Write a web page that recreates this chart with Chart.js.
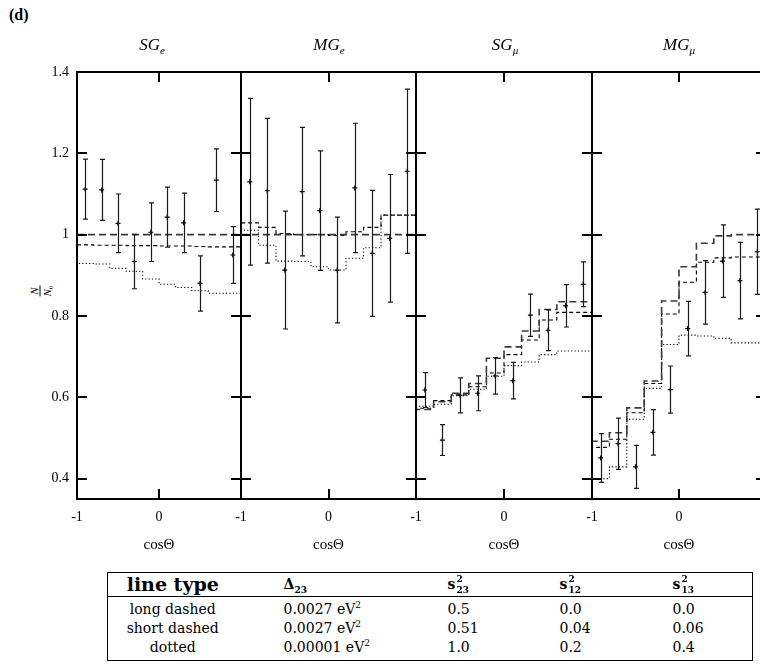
<!DOCTYPE html>
<html>
<head>
<meta charset="utf-8">
<title>N/N0 versus cos theta</title>
<script src="https://cdn.jsdelivr.net/npm/chart.js@4.4.1/dist/chart.umd.min.js"></script>
<style>
  html, body { margin: 0; padding: 0; background: #fff; }
  body {
    position: relative; width: 760px; height: 664px; overflow: hidden;
    font-family: "Liberation Serif", "DejaVu Serif", serif; color: #000;
  }
  canvas { position: absolute; top: 0; }
  .tag { position: absolute; left: 9px; top: 6px; font-weight: bold; font-size: 16px; }
  .ttl {
    position: absolute; top: 35px; font-style: italic; font-size: 17px;
    transform: translateX(-50%); white-space: nowrap;
  }
  .ttl sub { font-size: 11px; vertical-align: -4px; }
  .ylab {
    position: absolute; left: 41px; top: 291px;
    transform: translate(-50%, -50%) rotate(-90deg);
    font-size: 11px; font-style: italic;
  }
  .frac { display: inline-flex; flex-direction: column; align-items: center; line-height: 1; }
  .frac .den { border-top: 1px solid #000; padding-top: 1px; }
  .frac sub { font-size: 7px; vertical-align: -2px; font-style: normal; }

  table.params {
    position: absolute; left: 107px; top: 572px; width: 645px;
    border-collapse: collapse; border: 1px solid #000; table-layout: fixed;
    font-family: "DejaVu Serif", serif; font-size: 14px;
  }
  table.params th, table.params td {
    padding: 0 0 0 46px; text-align: left; white-space: nowrap; font-weight: normal;
  }
  table.params .lt { text-align: center; padding-left: 0; }
  table.params thead th {
    border-bottom: 1px solid #000; height: 23px; line-height: 23px; font-weight: bold;
  }
  table.params thead th.lt { font-size: 19px; }
  table.params tbody td { height: 19px; line-height: 19px; }
  table.params tbody tr:first-child td { padding-top: 3px; }
  table.params tbody tr:last-child td { padding-bottom: 3px; }
  table.params sub { font-size: 9px; line-height: 0; }
  table.params sup { font-size: 9px; line-height: 0; vertical-align: 6px; }
  /* superscript 2 stacked over the index pair */
  .stk { position: relative; display: inline-block; width: 14px; height: 1px; }
  .stk .up, .stk .dn { position: absolute; left: 1px; font-size: 9px; line-height: 10px; }
  .stk .up { top: -14px; }
  .stk .dn { top: -3px; }
</style>
</head>
<body>
<div class="tag">(d)</div>
<div class="ylab"><span class="frac"><span>N</span><span class="den">N<sub>0</sub></span></span></div>

<canvas id="panel0"></canvas>
<canvas id="panel1"></canvas>
<canvas id="panel2"></canvas>
<canvas id="panel3"></canvas>

<table class="params">
  <colgroup>
    <col style="width:130px"><col style="width:164px"><col style="width:112px"><col style="width:113px"><col style="width:126px">
  </colgroup>
  <thead>
    <tr>
      <th class="lt">line type</th>
      <th>&Delta;<sub>23</sub></th>
      <th>s<span class="stk"><span class="up">2</span><span class="dn">23</span></span></th>
      <th>s<span class="stk"><span class="up">2</span><span class="dn">12</span></span></th>
      <th>s<span class="stk"><span class="up">2</span><span class="dn">13</span></span></th>
    </tr>
  </thead>
  <tbody>
    <tr><td class="lt">long dashed</td><td>0.0027 eV<sup>2</sup></td><td>0.5</td><td>0.0</td><td>0.0</td></tr>
    <tr><td class="lt">short dashed</td><td>0.0027 eV<sup>2</sup></td><td>0.51</td><td>0.04</td><td>0.06</td></tr>
    <tr><td class="lt">dotted</td><td>0.00001 eV<sup>2</sup></td><td>1.0</td><td>0.2</td><td>0.4</td></tr>
  </tbody>
</table>

<script>
// cos(theta) binning shared by all four samples
const binEdges = [-1, -0.8, -0.6, -0.4, -0.2, 0, 0.2, 0.4, 0.6, 0.8, 1];
const binCenters = [-0.9, -0.7, -0.5, -0.3, -0.1, 0.1, 0.3, 0.5, 0.7, 0.9];
const yTicks = [0.4, 0.6, 0.8, 1.0, 1.2, 1.4];
const xTicks = [-1, 0];

// sub-GeV e-like
const sgeData = [1.112, 1.110, 1.028, 0.934, 1.006, 1.043, 1.029, 0.880, 1.134, 0.950];
const sgeErr = [0.074, 0.075, 0.072, 0.067, 0.072, 0.074, 0.073, 0.068, 0.077, 0.070];
const sgeLong = [1.0, 1.0, 1.0, 1.0, 1.0, 1.0, 1.0, 1.0, 1.0, 1.0];
const sgeShort = [0.975, 0.975, 0.974, 0.974, 0.973, 0.973, 0.972, 0.972, 0.971, 0.970];
const sgeDotted = [0.917, 0.929, 0.928, 0.917, 0.910, 0.891, 0.878, 0.870, 0.862, 0.856];

// multi-GeV e-like
const mgeData = [1.130, 1.108, 0.913, 1.106, 1.059, 0.913, 1.115, 0.954, 0.991, 1.156];
const mgeErr = [0.205, 0.178, 0.145, 0.158, 0.147, 0.130, 0.159, 0.155, 0.157, 0.202];
const mgeLong = [1.0, 1.0, 1.0, 1.0, 1.0, 1.0, 1.0, 1.0, 1.0, 1.0];
const mgeShort = [1.063, 1.029, 1.018, 1.003, 1.000, 1.000, 0.998, 1.007, 1.018, 1.048];
const mgeDotted = [1.096, 1.011, 0.974, 0.935, 0.934, 0.921, 0.913, 0.942, 0.968, 1.048];

// sub-GeV mu-like
const sgmData = [0.618, 0.495, 0.605, 0.610, 0.653, 0.641, 0.802, 0.765, 0.825, 0.878];
const sgmErr = [0.043, 0.038, 0.043, 0.043, 0.045, 0.045, 0.052, 0.050, 0.052, 0.055];
const sgmLong = [0.563, 0.570, 0.589, 0.610, 0.634, 0.696, 0.724, 0.763, 0.816, 0.835];
const sgmShort = [0.566, 0.573, 0.592, 0.606, 0.626, 0.660, 0.705, 0.741, 0.790, 0.809];
const sgmDotted = [0.577, 0.578, 0.583, 0.604, 0.620, 0.652, 0.678, 0.687, 0.705, 0.714];

// multi-GeV mu-like
const mgmData = [0.451, 0.486, 0.429, 0.514, 0.619, 0.769, 0.858, 0.935, 0.887, 0.958];
const mgmErr = [0.060, 0.063, 0.053, 0.056, 0.058, 0.067, 0.078, 0.089, 0.094, 0.105];
const mgmLong = [0.489, 0.492, 0.513, 0.574, 0.640, 0.837, 0.921, 0.979, 0.997, 1.000];
const mgmShort = [0.470, 0.477, 0.497, 0.562, 0.634, 0.805, 0.883, 0.932, 0.943, 0.945];
const mgmDotted = [0.514, 0.400, 0.429, 0.546, 0.622, 0.730, 0.753, 0.751, 0.745, 0.734];

const FONT = '"Liberation Serif", "DejaVu Serif", serif';
const SIDE = 40;        // room kept left and right of each plot box
const TOP = 72;         // top of the plot boxes
const CANVAS_H = 560;
const X_AXIS_H = 61;    // tick labels + cosΘ below each box

const panels = [
  { left: 77, width: 164, titleX: 152, name: 'SG', sub: 'e', data: sgeData, err: sgeErr, long: sgeLong, short: sgeShort, dotted: sgeDotted },
  { left: 241, width: 175, titleX: 329, name: 'MG', sub: 'e', data: mgeData, err: mgeErr, long: mgeLong, short: mgeShort, dotted: mgeDotted },
  { left: 416, width: 176, titleX: 505, name: 'SG', sub: 'μ', data: sgmData, err: sgmErr, long: sgmLong, short: sgmShort, dotted: sgmDotted },
  { left: 592, width: 174, titleX: 679, name: 'MG', sub: 'μ', data: mgmData, err: mgmErr, long: mgmLong, short: mgmShort, dotted: mgmDotted },
];

// histogram outline: each bin value held until the next edge, last one repeated at x = 1
function steps(vals) {
  return binEdges.map((e, i) => ({ x: e, y: vals[Math.min(i, vals.length - 1)] }));
}

// error bars, box frame and inward tick marks
const framePlugin = {
  id: 'frame',
  afterDatasetsDraw(chart) {
    const { ctx, chartArea: a, scales: { x, y } } = chart;
    ctx.save();

    ctx.strokeStyle = '#1a1a1a';
    ctx.lineWidth = 1.2;
    chart.data.datasets.forEach((ds) => {
      if (!ds.errors) return;
      ds.data.forEach((pt, j) => {
        const px = Math.round(x.getPixelForValue(pt.x)) + 0.5;
        const top = y.getPixelForValue(pt.y + ds.errors[j]);
        const bot = y.getPixelForValue(pt.y - ds.errors[j]);
        ctx.beginPath();
        ctx.moveTo(px, top); ctx.lineTo(px, bot);
        ctx.moveTo(px - 2.5, top); ctx.lineTo(px + 2.5, top);
        ctx.moveTo(px - 2.5, bot); ctx.lineTo(px + 2.5, bot);
        ctx.stroke();
      });
    });

    ctx.strokeStyle = '#000';
    ctx.lineWidth = 2;
    ctx.strokeRect(a.left, a.top, a.right - a.left, a.bottom - a.top);

    const len = 10;
    ctx.beginPath();
    yTicks.slice(0, -1).forEach((v) => {
      const py = Math.round(y.getPixelForValue(v));
      ctx.moveTo(a.left, py); ctx.lineTo(a.left + len, py);
      ctx.moveTo(a.right, py); ctx.lineTo(a.right - len, py);
    });
    const px0 = Math.round(x.getPixelForValue(0));
    ctx.moveTo(px0, a.top); ctx.lineTo(px0, a.top + len);
    ctx.moveTo(px0, a.bottom); ctx.lineTo(px0, a.bottom - len);
    ctx.stroke();

    ctx.restore();
  },
};

function makePanel(idx, p) {
  const canvas = document.getElementById('panel' + idx);
  const w = p.width + 2 * SIDE;
  canvas.width = w;
  canvas.height = CANVAS_H;
  canvas.style.left = (p.left - SIDE) + 'px';
  canvas.style.width = w + 'px';
  canvas.style.height = CANVAS_H + 'px';

  const lineBase = { type: 'line', stepped: 'after', pointRadius: 0, fill: false, tension: 0 };

  new Chart(canvas, {
    type: 'line',
    data: {
      datasets: [
        { ...lineBase, label: 'long dashed', data: steps(p.long), borderColor: '#3a3a3a', borderWidth: 1.6, borderDash: [7, 4] },
        { ...lineBase, label: 'short dashed', data: steps(p.short), borderColor: '#000', borderWidth: 1.1, borderDash: [4, 3] },
        { ...lineBase, label: 'dotted', data: steps(p.dotted), borderColor: '#000', borderWidth: 1.1, borderDash: [1.2, 2.2] },
        {
          type: 'line', label: 'data', showLine: false,
          data: binCenters.map((c, i) => ({ x: c, y: p.data[i] })),
          errors: p.err,
          pointStyle: 'cross', pointRadius: 2.5, borderColor: '#000', borderWidth: 1.2,
        },
      ],
    },
    options: {
      responsive: false,
      animation: false,
      devicePixelRatio: 1,
      layout: { padding: { top: TOP, right: SIDE, left: 0, bottom: 0 } },
      plugins: { legend: { display: false }, tooltip: { enabled: false } },
      scales: {
        x: {
          type: 'linear', min: -1, max: 1,
          grid: { display: false, drawTicks: false },
          border: { display: false },
          afterBuildTicks: (s) => { s.ticks = xTicks.map((v) => ({ value: v })); },
          afterFit: (s) => { s.height = X_AXIS_H; },
          ticks: {
            color: '#000', padding: 10, maxRotation: 0, autoSkip: false,
            font: { family: FONT, size: 14 },
            callback: (v) => String(v),
          },
          title: {
            display: true, text: 'cosΘ', color: '#000',
            font: { family: FONT, size: 15 }, padding: { top: 0, bottom: 6 },
          },
        },
        y: {
          type: 'linear', min: 0.35, max: 1.4,
          grid: { display: false, drawTicks: false },
          border: { display: false },
          afterBuildTicks: (s) => { s.ticks = yTicks.map((v) => ({ value: v })); },
          afterFit: (s) => { s.width = SIDE; },
          ticks: {
            display: idx === 0, color: '#000', padding: 8,
            font: { family: FONT, size: 14 },
            callback: (v) => (v === 1 ? '1' : v.toFixed(1)),
          },
        },
      },
    },
    plugins: [framePlugin],
  });

  const t = document.createElement('div');
  t.className = 'ttl';
  t.style.left = p.titleX + 'px';
  t.innerHTML = p.name + '<sub>' + p.sub + '</sub>';
  document.body.appendChild(t);
}

panels.forEach((p, i) => makePanel(i, p));
</script>
</body>
</html>
